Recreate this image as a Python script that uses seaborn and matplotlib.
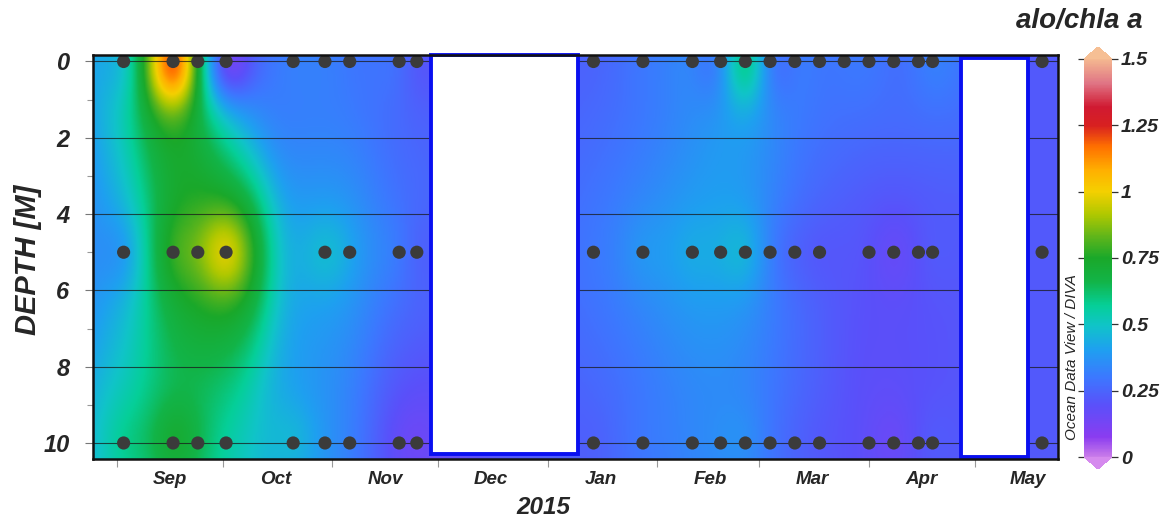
import numpy as np
import pandas as pd
import matplotlib
matplotlib.use("Agg")
import matplotlib.pyplot as plt
import matplotlib.dates as mdates
from matplotlib.colors import LinearSegmentedColormap
from matplotlib.patches import Rectangle
import seaborn as sns

# ---- sampling dates and measured alo/chla a ratio at 0, 5 and 10 m ----
sample_dates = pd.to_datetime([
    "2015-09-03", "2015-09-17", "2015-09-24", "2015-10-02", "2015-10-21",
    "2015-10-30", "2015-11-06", "2015-11-20", "2015-11-25",
    "2016-01-14", "2016-01-28", "2016-02-11", "2016-02-19", "2016-02-26",
    "2016-03-04", "2016-03-11", "2016-03-18", "2016-03-25", "2016-04-01",
    "2016-04-08", "2016-04-15", "2016-04-19", "2016-05-20",
])
ratio_0m = [0.50, 1.20, 0.72, 0.16, 0.32, 0.32, 0.30, 0.27, 0.22,
            0.25, 0.30, 0.33, 0.36, 0.58, 0.34, 0.30, 0.30, 0.30, 0.30,
            0.28, 0.30, 0.32, 0.22]
ratio_5m = [0.40, 0.78, 0.86, 0.97, np.nan, 0.47, 0.42, 0.30, 0.25,
            0.30, 0.38, 0.43, 0.44, 0.45, 0.33, 0.25, 0.22, np.nan, 0.20,
            0.17, 0.20, 0.22, 0.22]
ratio_10m = [0.58, 0.72, 0.66, 0.56, 0.46, 0.38, 0.32, 0.17, 0.15,
             0.24, 0.30, 0.34, 0.36, 0.36, 0.30, 0.25, 0.22, np.nan, 0.18,
             0.16, 0.20, 0.22, 0.22]
depths = [0, 5, 10]

# periods without gridded coverage
gap_start = pd.to_datetime(["2015-11-29 00:00", "2016-04-27 00:00"])
gap_end = pd.to_datetime(["2016-01-09 12:00", "2016-05-16 00:00"])
gap_top = [-0.17, -0.08]
gap_bottom = [10.28, 10.37]

x_start, x_end = pd.Timestamp("2015-08-25 08:00"), pd.Timestamp("2016-05-24 12:00")
z_top, z_bottom = -0.17, 10.42
vmin, vmax = 0.0, 1.5

# ---- long-form table of the samples ----
rows = []
for d, vals in zip(depths, [ratio_0m, ratio_5m, ratio_10m]):
    for t, v in zip(sample_dates, vals):
        if not np.isnan(v):
            rows.append({"date": t, "depth": d, "ratio": v})
samples = pd.DataFrame(rows)
samples["t"] = mdates.date2num(samples["date"])

ts = samples["t"].to_numpy()
zs = samples["depth"].to_numpy(dtype=float)
vs = samples["ratio"].to_numpy()

gx = np.linspace(mdates.date2num(x_start), mdates.date2num(x_end), 700)
gz = np.linspace(z_top, z_bottom, 260)
GX, GZ = np.meshgrid(gx, gz)


def gauss(ta, za, tb, zb, lx, lz):
    return np.exp(-((ta - tb) / lx) ** 2 - ((za - zb) / lz) ** 2)


# ---- DIVA-like gridding, two scales ----
# 1) large scale: gaussian weighted mean relaxed toward a background value
Lx_big, Lz_big = 13.0, 3.0
background, w_bg = 0.22, 0.35


def large_scale(tq, zq):
    num = np.full(np.shape(tq), w_bg * background)
    den = np.full(np.shape(tq), w_bg)
    for t, z, v in zip(ts, zs, vs):
        w = gauss(tq, zq, t, z, Lx_big, Lz_big)
        num = num + w * v
        den = den + w
    return num / den


# 2) small scale: optimal interpolation of the residuals
Lx_small, Lz_small, noise = 7.5, 1.15, 0.05
resid = vs - large_scale(ts, zs)
K = gauss(ts[:, None], zs[:, None], ts[None, :], zs[None, :], Lx_small, Lz_small)
coef = np.linalg.solve(K + noise * np.eye(len(ts)), resid)

field = large_scale(GX, GZ)
for t, z, c in zip(ts, zs, coef):
    field += c * gauss(GX, GZ, t, z, Lx_small, Lz_small)

# ---- Ocean Data View style palette ----
odv_colors = [
    (0.000, "#c97ce9"), (0.050, "#8a3cf0"), (0.130, "#5a50fa"),
    (0.200, "#3c78ff"), (0.270, "#1ea0f0"), (0.330, "#10c4c8"),
    (0.380, "#05cf98"), (0.440, "#12b448"), (0.500, "#1aa82a"),
    (0.550, "#5ab41c"), (0.610, "#b0c800"), (0.667, "#f4d000"),
    (0.720, "#ffb000"), (0.780, "#ff7000"), (0.833, "#d82020"),
    (0.880, "#d01a32"), (0.940, "#e07585"), (1.000, "#f4b890"),
]
cmap = LinearSegmentedColormap.from_list("odv", odv_colors, N=512)
cmap.set_over("#f6bf94")
cmap.set_under("#d58aee")

# ---- figure ----
sns.set_theme(style="white")
plt.rcParams["font.family"] = ["Liberation Sans", "DejaVu Sans"]
plt.rcParams["font.weight"] = "bold"
plt.rcParams["font.style"] = "italic"

W, H = 1161, 518
fig = plt.figure(figsize=(W / 100, H / 100), dpi=100)
ax = fig.add_axes([93 / W, 1 - 459 / H, (1058 - 93) / W, (459 - 55) / H])

im = ax.imshow(field, extent=[gx[0], gx[-1], z_bottom, z_top], origin="upper",
               aspect="auto", cmap=cmap, vmin=vmin, vmax=vmax,
               interpolation="bilinear", zorder=0)

for d in np.arange(0, 11, 2):
    ax.axhline(d, color="#1a1a1a", lw=0.8, alpha=0.75, zorder=1)

for s, e, t0, b0 in zip(gap_start, gap_end, gap_top, gap_bottom):
    xs, xe = mdates.date2num(s), mdates.date2num(e)
    ax.add_patch(Rectangle((xs, t0), xe - xs, b0 - t0, facecolor="white",
                           edgecolor="#0a10f0", lw=2.8, zorder=2, clip_on=False))

sns.scatterplot(data=samples, x="t", y="depth", ax=ax, color="#3b3b3b",
                s=90, edgecolor="none", zorder=3, legend=False)

ax.set_xlim(mdates.date2num(x_start), mdates.date2num(x_end))
ax.set_ylim(z_bottom, z_top)
ax.set_xlabel("")
ax.set_ylabel("")

# axes frame and ticks
for sp in ax.spines.values():
    sp.set_visible(True)
    sp.set_color("#111111")
    sp.set_linewidth(1.8)
    sp.set_zorder(5)

ax.set_yticks(np.arange(0, 11, 2))
ax.set_yticks(np.arange(1, 11, 2), minor=True)
ax.tick_params(axis="y", which="major", left=True, direction="out", length=6,
               width=0.8, color="#777777", labelsize=17, pad=11)
ax.tick_params(axis="y", which="minor", left=True, direction="out", length=4,
               width=0.8, color="#999999")

ax.xaxis.set_major_locator(mdates.MonthLocator(bymonthday=1))
ax.xaxis.set_major_formatter(plt.NullFormatter())
ax.xaxis.set_minor_locator(mdates.MonthLocator(bymonthday=16))
ax.xaxis.set_minor_formatter(mdates.DateFormatter("%b"))
ax.tick_params(axis="x", which="major", bottom=True, direction="out", length=6,
               width=0.8, color="#999999")
ax.tick_params(axis="x", which="minor", bottom=False, length=0,
               labelsize=13.5, pad=9)
for lab in ax.get_yticklabels() + ax.get_xticklabels(minor=True):
    lab.set_fontweight("bold")
    lab.set_fontstyle("italic")

fig.text(28 / W, 1 - 260 / H, "DEPTH [M]", rotation=90, ha="center", va="center",
         fontsize=21, fontweight="bold", fontstyle="italic")
fig.text(543 / W, 1 - 507 / H, "2015", ha="center", va="center",
         fontsize=17.5, fontweight="bold", fontstyle="italic")
fig.text(1143 / W, 1 - 21 / H, "alo/chla a", ha="right", va="center",
         fontsize=20, fontweight="bold", fontstyle="italic")
fig.text(1072 / W, 1 - 357 / H, "Ocean Data View / DIVA", rotation=90,
         ha="center", va="center", fontsize=11, fontweight="normal",
         fontstyle="italic")

# colour bar
cax = fig.add_axes([1084 / W, 1 - 469 / H, 28 / W, (469 - 47) / H])
cb = fig.colorbar(im, cax=cax, extend="both", extendfrac=0.03)
cb.outline.set_visible(False)
cb.set_ticks([0, 0.25, 0.5, 0.75, 1, 1.25, 1.5])
cb.set_ticklabels(["0", "0.25", "0.5", "0.75", "1", "1.25", "1.5"])
cax.yaxis.set_ticks_position("both")
cax.tick_params(which="major", direction="inout", length=9, width=0.9,
                color="#333333", labelsize=14, pad=2)
cax.minorticks_off()
for lab in cax.get_yticklabels():
    lab.set_fontweight("bold")
    lab.set_fontstyle("italic")

fig.savefig("out.png", dpi=100)
